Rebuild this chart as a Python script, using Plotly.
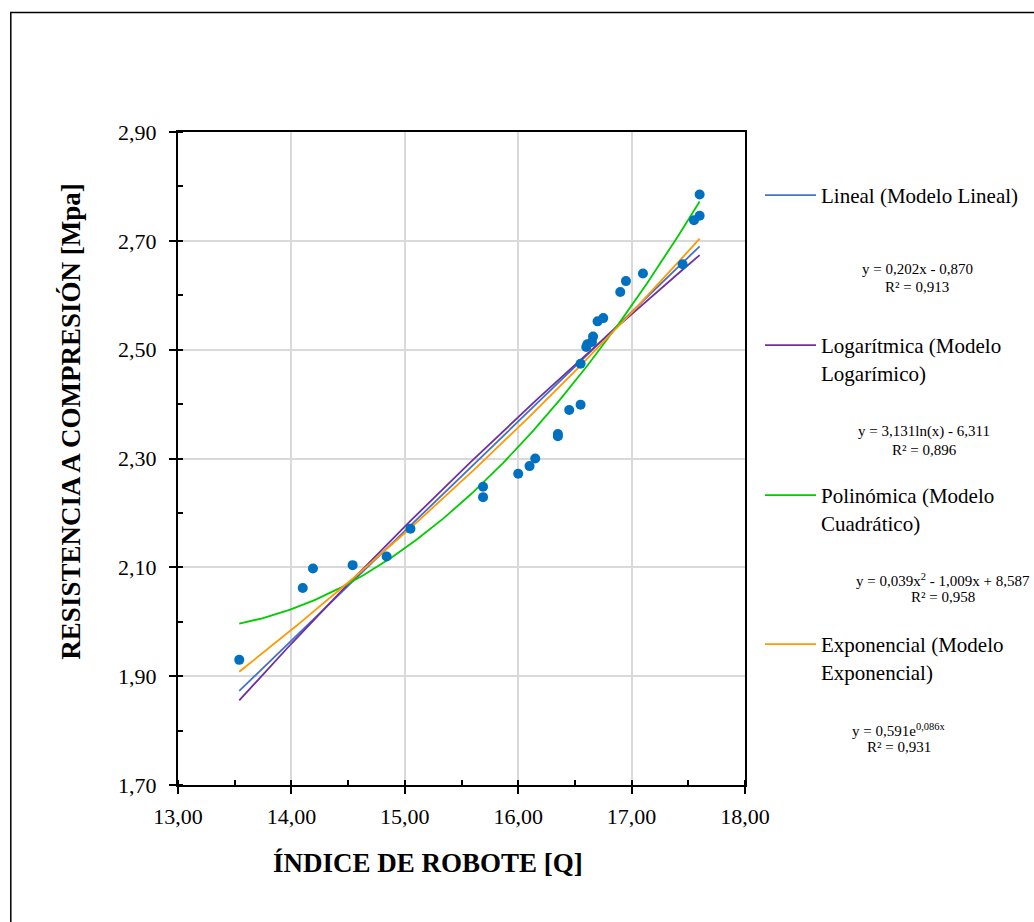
import numpy as np
import plotly.graph_objects as go

# ---------------- data ----------------
indice_q = [13.54, 14.10, 14.19, 14.54, 14.84, 15.05, 15.69, 15.69, 16.00, 16.10,
            16.15, 16.35, 16.35, 16.45, 16.55, 16.55, 16.60, 16.61, 16.65, 16.66,
            16.70, 16.75, 16.90, 16.95, 17.10, 17.45, 17.55, 17.60, 17.60]
resistencia = [1.930, 2.062, 2.098, 2.104, 2.120, 2.171, 2.248, 2.229, 2.272, 2.286,
               2.300, 2.345, 2.341, 2.389, 2.399, 2.474, 2.505, 2.510, 2.514, 2.524,
               2.552, 2.558, 2.606, 2.626, 2.640, 2.657, 2.738, 2.746, 2.785]

trend_names = ["Lineal (Modelo Lineal)",
               "Logarítmica (Modelo<br>Logarímico)",
               "Polinómica (Modelo<br>Cuadrático)",
               "Exponencial (Modelo<br>Exponencial)"]
trend_colors = ["#4472C4", "#7030A0", "#00CC00", "#FF9900"]
eq_line1 = ["y = 0,202x - 0,870",
            "y = 3,131ln(x) - 6,311",
            "y = 0,039x<sup>2</sup> - 1,009x + 8,587",
            "y = 0,591e<sup>0,086x</sup>"]
eq_line2 = ["R² = 0,913", "R² = 0,896", "R² = 0,958", "R² = 0,931"]

x_tick_vals = [13, 14, 15, 16, 17, 18]
y_tick_vals = [1.7, 1.9, 2.1, 2.3, 2.5, 2.7, 2.9]

# ---------------- trend fits (least squares on data) ----------------
xd = np.array(indice_q)
yd = np.array(resistencia)
xs = np.linspace(xd.min(), xd.max(), 200)

c_lin = np.polyfit(xd, yd, 1)
c_log = np.polyfit(np.log(xd), yd, 1)
c_pol = np.polyfit(xd, yd, 2)
c_exp = np.polyfit(xd, np.log(yd), 1)

trend_y = [np.polyval(c_lin, xs),
           np.polyval(c_log, np.log(xs)),
           np.polyval(c_pol, xs),
           np.exp(np.polyval(c_exp, xs))]

# ---------------- layout geometry (pixels) ----------------
W, H = 1034, 922
L, R, T, B = 177.5, 1034 - 745.5, 131.7, 922 - 785.5
PW, PH = W - L - R, H - T - B

def px_x(p):
    return (p - L) / PW

def px_y(p):
    return (H - B - p) / PH

FONT = "Liberation Serif, Times New Roman, serif"

fig = go.Figure()

for i in range(4):
    fig.add_trace(go.Scatter(
        x=xs, y=trend_y[i], mode="lines", name=trend_names[i],
        line=dict(color=trend_colors[i], width=1.8),
        legend="legend" if i == 0 else f"legend{i+1}",
        hoverinfo="skip"))

fig.add_trace(go.Scatter(
    x=indice_q, y=resistencia, mode="markers", showlegend=False,
    marker=dict(color="#0070C0", size=10)))

legend_line_y = [195, 345, 495, 644]
legend_common = dict(xref="container", yref="container", xanchor="left", yanchor="top",
                     font=dict(family=FONT, size=21, color="black"),
                     bgcolor="rgba(0,0,0,0)", borderwidth=0, valign="top",
                     itemwidth=51, tracegroupgap=0)
legend_layout = {}
for i in range(4):
    key = "legend" if i == 0 else f"legend{i+1}"
    legend_layout[key] = dict(legend_common, x=760 / W, y=1 - (legend_line_y[i] - 20) / H)

eq_cx = [918, 925, 944, 900]
eq_y1 = [269, 432, 580, 730]
eq_y2 = [287, 450, 597, 747]
annotations = []
for i in range(4):
    annotations.append(dict(xref="paper", yref="paper", x=px_x(eq_cx[i]), y=px_y(eq_y1[i]),
                            text=eq_line1[i], showarrow=False, xanchor="center", yanchor="middle",
                            font=dict(family=FONT, size=15, color="black")))
    annotations.append(dict(xref="paper", yref="paper", x=px_x(eq_cx[i]), y=px_y(eq_y2[i]),
                            text=eq_line2[i], showarrow=False, xanchor="center", yanchor="middle",
                            font=dict(family=FONT, size=15, color="black")))

annotations.append(dict(xref="paper", yref="paper", x=px_x(428), y=px_y(864),
                        text="<b>ÍNDICE DE ROBOTE [Q]</b>", showarrow=False,
                        xanchor="center", yanchor="middle",
                        font=dict(family=FONT, size=27, color="black")))
annotations.append(dict(xref="paper", yref="paper", x=px_x(70), y=px_y(422),
                        text="<b>RESISTENCIA A COMPRESIÓN [Mpa]</b>", showarrow=False,
                        textangle=-90, xanchor="center", yanchor="middle",
                        font=dict(family=FONT, size=27, color="black")))

axis_common = dict(showline=True, linecolor="black", linewidth=2, mirror=True,
                   showgrid=True, gridcolor="#D9D9D9", gridwidth=1.5,
                   ticks="outside", ticklen=7, tickwidth=2, tickcolor="black",
                   tickformat=".2f", zeroline=False,
                   tickfont=dict(family=FONT, size=22, color="black"))

fig.update_layout(
    width=W, height=H, autosize=False,
    margin=dict(l=L, r=R, t=T, b=B, pad=0, autoexpand=False),
    paper_bgcolor="white", plot_bgcolor="white",
    separators=",.",
    xaxis=dict(axis_common, range=[13, 18], tickvals=x_tick_vals,
               minor=dict(dtick=0.5, ticks="inside", ticklen=5, tickwidth=1.5, tickcolor="black", showgrid=False),
               ticklabelstandoff=4),
    yaxis=dict(axis_common, range=[1.7, 2.9], tickvals=y_tick_vals,
               minor=dict(dtick=0.1, ticks="inside", ticklen=5, tickwidth=1.5, tickcolor="black", showgrid=False),
               ticklabelstandoff=8),
    annotations=annotations,
    shapes=[dict(type="rect", xref="paper", yref="paper",
                 x0=px_x(10), x1=px_x(1045), y0=px_y(935), y1=px_y(12),
                 line=dict(color="black", width=1.5), fillcolor="rgba(0,0,0,0)", layer="below")],
    **legend_layout,
)

fig.write_html("out.html")
